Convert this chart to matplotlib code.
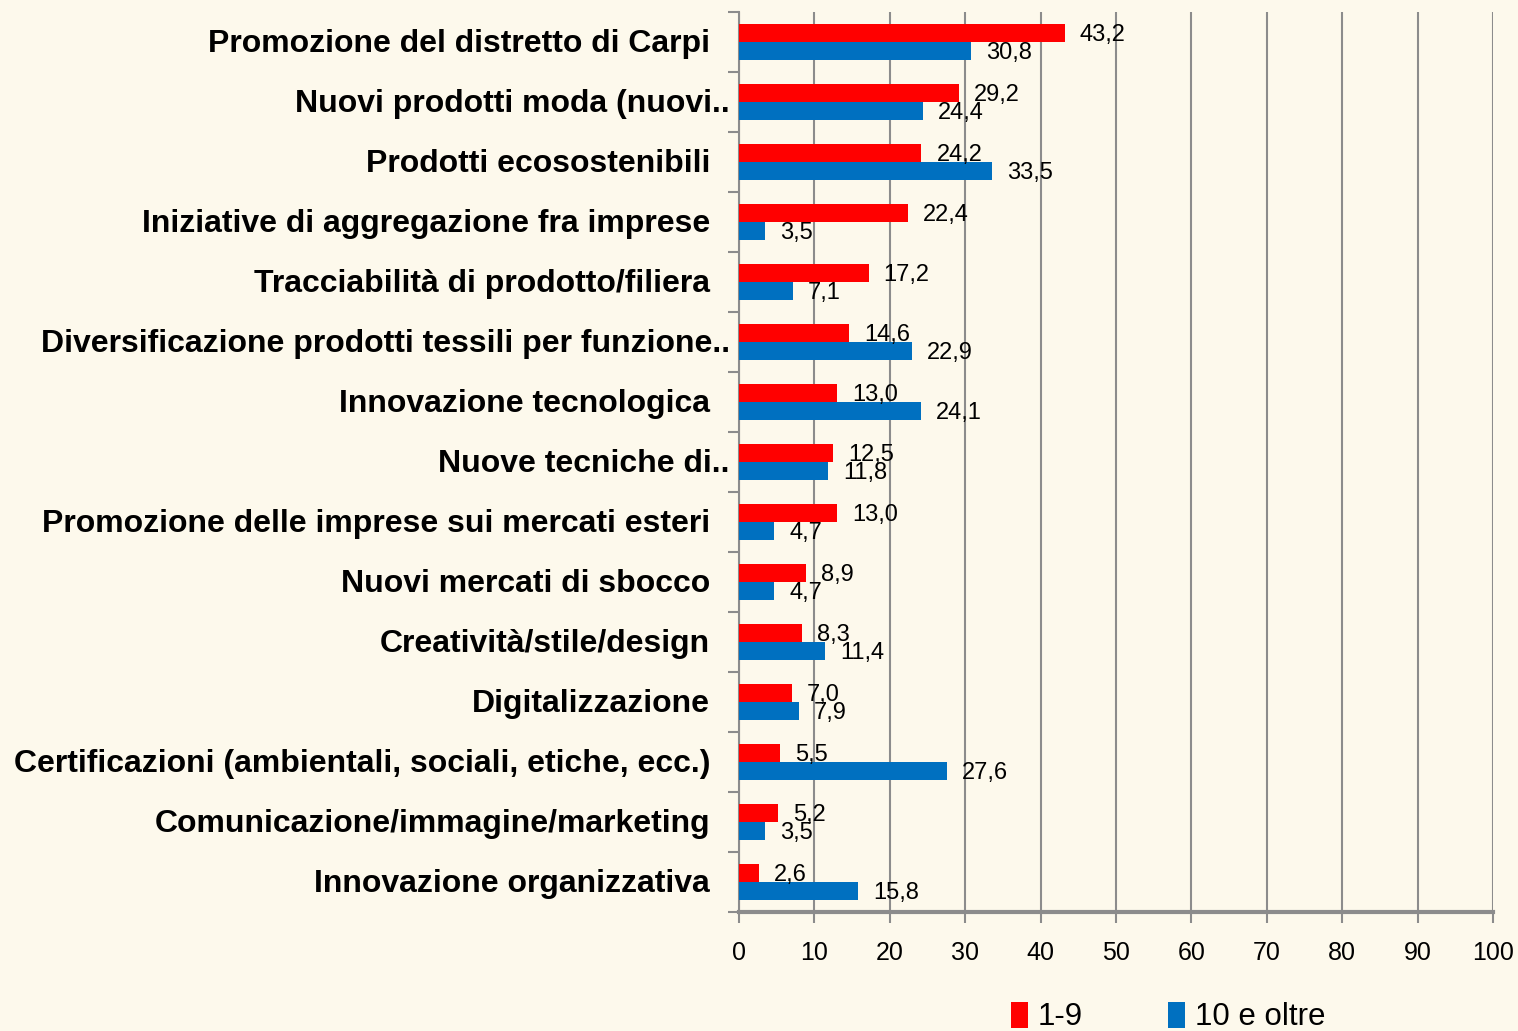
import numpy as np
import matplotlib.pyplot as plt
import matplotlib.transforms as mtransforms

plt.rcParams['font.family'] = ['Liberation Sans', 'DejaVu Sans']

# =====================
# dati
# =====================

categorie = [
    "Promozione del distretto di Carpi",
    "Nuovi prodotti moda (nuovi..",
    "Prodotti ecosostenibili",
    "Iniziative di aggregazione fra imprese",
    "Tracciabilità di prodotto/filiera",
    "Diversificazione prodotti tessili per funzione..",
    "Innovazione tecnologica",
    "Nuove tecniche di..",
    "Promozione delle imprese sui mercati esteri",
    "Nuovi mercati di sbocco",
    "Creatività/stile/design",
    "Digitalizzazione",
    "Certificazioni (ambientali, sociali, etiche, ecc.)",
    "Comunicazione/immagine/marketing",
    "Innovazione organizzativa",
]

piccole = [43.2, 29.2, 24.2, 22.4, 17.2, 14.6, 13.0, 12.5, 13.0, 8.9, 8.3, 7.0, 5.5, 5.2, 2.6]
grandi = [30.8, 24.4, 33.5, 3.5, 7.1, 22.9, 24.1, 11.8, 4.7, 4.7, 11.4, 7.9, 27.6, 3.5, 15.8]

serie = ["1-9", "10 e oltre"]
xticks = list(range(0, 101, 10))

# =====================
# gráfico
# =====================

bg = "#fdf9ec"
grigio = "#8c8c8c"

fig = plt.figure(figsize=(15.18, 10.31), dpi=100, facecolor=bg)
ax = fig.add_axes([739/1518, 1 - 912/1031, 754/1518, 900/1031])
ax.set_facecolor(bg)

y = np.arange(len(categorie))
h = 0.3
b1 = ax.barh(y - h/2, piccole, height=h, color="#ff0000", label=serie[0], zorder=3)
b2 = ax.barh(y + h/2, grandi, height=h, color="#0070c0", label=serie[1], zorder=3)

ax.set_xlim(0, 100)
ax.set_ylim(len(categorie) - 0.5, -0.5)

# etichette valori
off = mtransforms.offset_copy(ax.transData, fig=fig, x=15, y=-2, units='dots')
for yy, v in zip(y - h/2, piccole):
    ax.text(v, yy, f"{v:.1f}".replace(".", ","), transform=off, va='center',
            ha='left', fontsize=17, zorder=4)
for yy, v in zip(y + h/2, grandi):
    ax.text(v, yy, f"{v:.1f}".replace(".", ","), transform=off, va='center',
            ha='left', fontsize=17, zorder=4)

# etichette categorie
ytr = mtransforms.offset_copy(ax.get_yaxis_transform(), fig=fig, x=0, y=-2, units='dots')
for i, c in enumerate(categorie):
    xpos = -9/754 if c.endswith("..") else -29/754
    ax.text(xpos, i, c, transform=ytr, ha='right', va='center',
            fontsize=23, fontweight='bold')

ax.set_yticks(np.arange(len(categorie) + 1) - 0.5)
ax.set_yticklabels([])
ax.tick_params(axis='y', length=8, width=1.5, color=grigio)

ax.set_xticks(xticks)
ax.set_xticklabels([str(t) for t in xticks], fontsize=18)
ax.tick_params(axis='x', length=8, width=1.5, color=grigio, pad=13)

ax.grid(axis='x', color=grigio, linewidth=1.5, zorder=0)
for s in ['top', 'right']:
    ax.spines[s].set_visible(False)
ax.spines['left'].set_color(grigio)
ax.spines['left'].set_linewidth(1.5)
ax.spines['bottom'].set_color(grigio)
ax.spines['bottom'].set_linewidth(3)

fig.legend(handles=[b1, b2], loc='center', bbox_to_anchor=(1168/1518, 14/1031),
           ncol=2, frameon=False, fontsize=22.5, handlelength=0.55, handleheight=0.9,
           handletextpad=0.3, columnspacing=2.75)

fig.savefig("out.png", dpi=100, facecolor=bg)
